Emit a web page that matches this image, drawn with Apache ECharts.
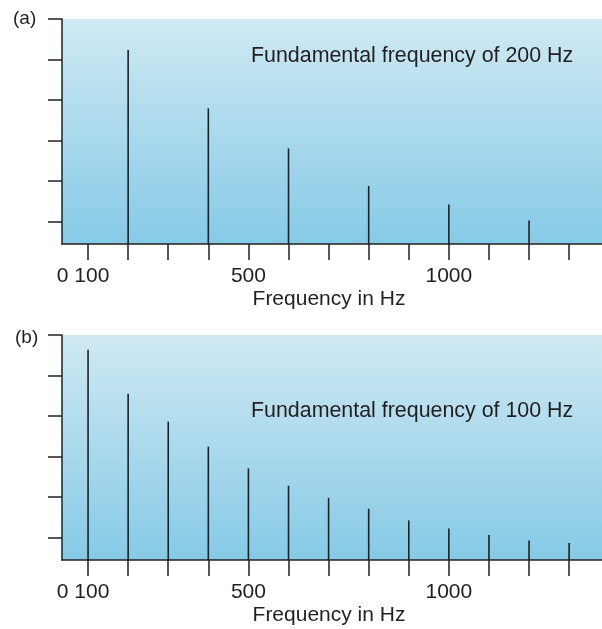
<!DOCTYPE html>
<html>
<head>
<meta charset="utf-8">
<style>html,body{margin:0;padding:0;background:#fff;}#c{width:602px;height:629px;}</style>
<script src="https://cdn.jsdelivr.net/npm/echarts@6/dist/echarts.min.js"></script>
</head>
<body>
<div id="c"></div>
<script>
// Data
var harmonicsA = [200, 400, 600, 800, 1000, 1200];
var amplitudesA = [86.2, 60.3, 42.5, 25.8, 17.6, 10.5];
var harmonicsB = [100, 200, 300, 400, 500, 600, 700, 800, 900, 1000, 1100, 1200, 1300];
var amplitudesB = [93.5, 73.9, 61.5, 50.4, 40.7, 33.0, 27.6, 22.8, 17.6, 14.0, 11.1, 8.7, 7.6];
var xTickValues = [100, 200, 300, 400, 500, 600, 700, 800, 900, 1000, 1100, 1200, 1300];
var xLabelValues = [100, 500, 1000];
var xLabelTexts = ['0 100', '500', '1000'];
var yTickValues = [10, 28, 46, 64, 82, 100];
var panelLabels = ['(a)', '(b)'];
var panelTitles = ['Fundamental frequency of 200 Hz', 'Fundamental frequency of 100 Hz'];
var xAxisName = 'Frequency in Hz';

var ink = '#231f20';
var FONT = '"Liberation Sans", Arial, Helvetica, sans-serif';

function bg() {
  return new echarts.graphic.LinearGradient(0, 0, 0, 1, [
    {offset: 0, color: '#cfe9f3'},
    {offset: 1, color: '#86cae6'}
  ]);
}
function pairs(xs, ys) { return xs.map(function (x, i) { return [x, ys[i]]; }); }

function xAxisCfg(gi) {
  return {
    gridIndex: gi, type: 'value', min: 35, max: 1382,
    name: xAxisName, nameLocation: 'middle', nameGap: 45,
    nameTextStyle: {fontFamily: FONT, fontSize: 21, color: ink, padding: [0, 6, 0, 0]},
    axisLine: {show: true, onZero: false, lineStyle: {color: ink, width: 1.5}},
    axisTick: {show: true, inside: false, length: 16, customValues: xTickValues, lineStyle: {color: ink, width: 1.5}},
    axisLabel: {
      show: true, margin: 22, customValues: xLabelValues,
      fontFamily: FONT, fontSize: 21, color: ink,
      formatter: function (v) {
        var i = xLabelValues.indexOf(v);
        var t = i >= 0 ? xLabelTexts[i] : '';
        return i === 0 ? '{a|' + t + '}' : t;
      },
      rich: {a: {fontFamily: FONT, fontSize: 21, color: ink, padding: [0, 10, 0, 0]}}
    },
    splitLine: {show: false}
  };
}
function yAxisCfg(gi) {
  return {
    gridIndex: gi, type: 'value', min: 0, max: 100,
    axisLine: {show: true, lineStyle: {color: ink, width: 1.5}},
    axisTick: {show: true, inside: false, length: 14, customValues: yTickValues, lineStyle: {color: ink, width: 1.5}},
    axisLabel: {show: false},
    splitLine: {show: false}
  };
}

var chart = echarts.init(document.getElementById('c'), null, {renderer: 'canvas'});
chart.setOption({
  animation: false,
  backgroundColor: '#ffffff',
  title: [
    {text: panelLabels[0], left: 8, top: 4, textStyle: {fontFamily: FONT, fontSize: 19, fontWeight: 'normal', color: ink}},
    {text: panelLabels[1], left: 10, top: 323, textStyle: {fontFamily: FONT, fontSize: 19, fontWeight: 'normal', color: ink}},
    {text: panelTitles[0], left: 246, top: 41, textStyle: {fontFamily: FONT, fontSize: 21.4, fontWeight: 'normal', color: ink}},
    {text: panelTitles[1], left: 246, top: 396, textStyle: {fontFamily: FONT, fontSize: 21.4, fontWeight: 'normal', color: ink}}
  ],
  grid: [
    {left: 62, top: 19, right: 0, height: 225, show: true, backgroundColor: bg(), borderWidth: 0, containLabel: false},
    {left: 62, top: 335, right: 0, height: 225, show: true, backgroundColor: bg(), borderWidth: 0, containLabel: false}
  ],
  xAxis: [xAxisCfg(0), xAxisCfg(1)],
  yAxis: [yAxisCfg(0), yAxisCfg(1)],
  series: [
    {type: 'bar', xAxisIndex: 0, yAxisIndex: 0, barWidth: 1.6, data: pairs(harmonicsA, amplitudesA), itemStyle: {color: ink}, silent: true},
    {type: 'bar', xAxisIndex: 1, yAxisIndex: 1, barWidth: 1.6, data: pairs(harmonicsB, amplitudesB), itemStyle: {color: ink}, silent: true}
  ]
});
</script>
</body>
</html>
